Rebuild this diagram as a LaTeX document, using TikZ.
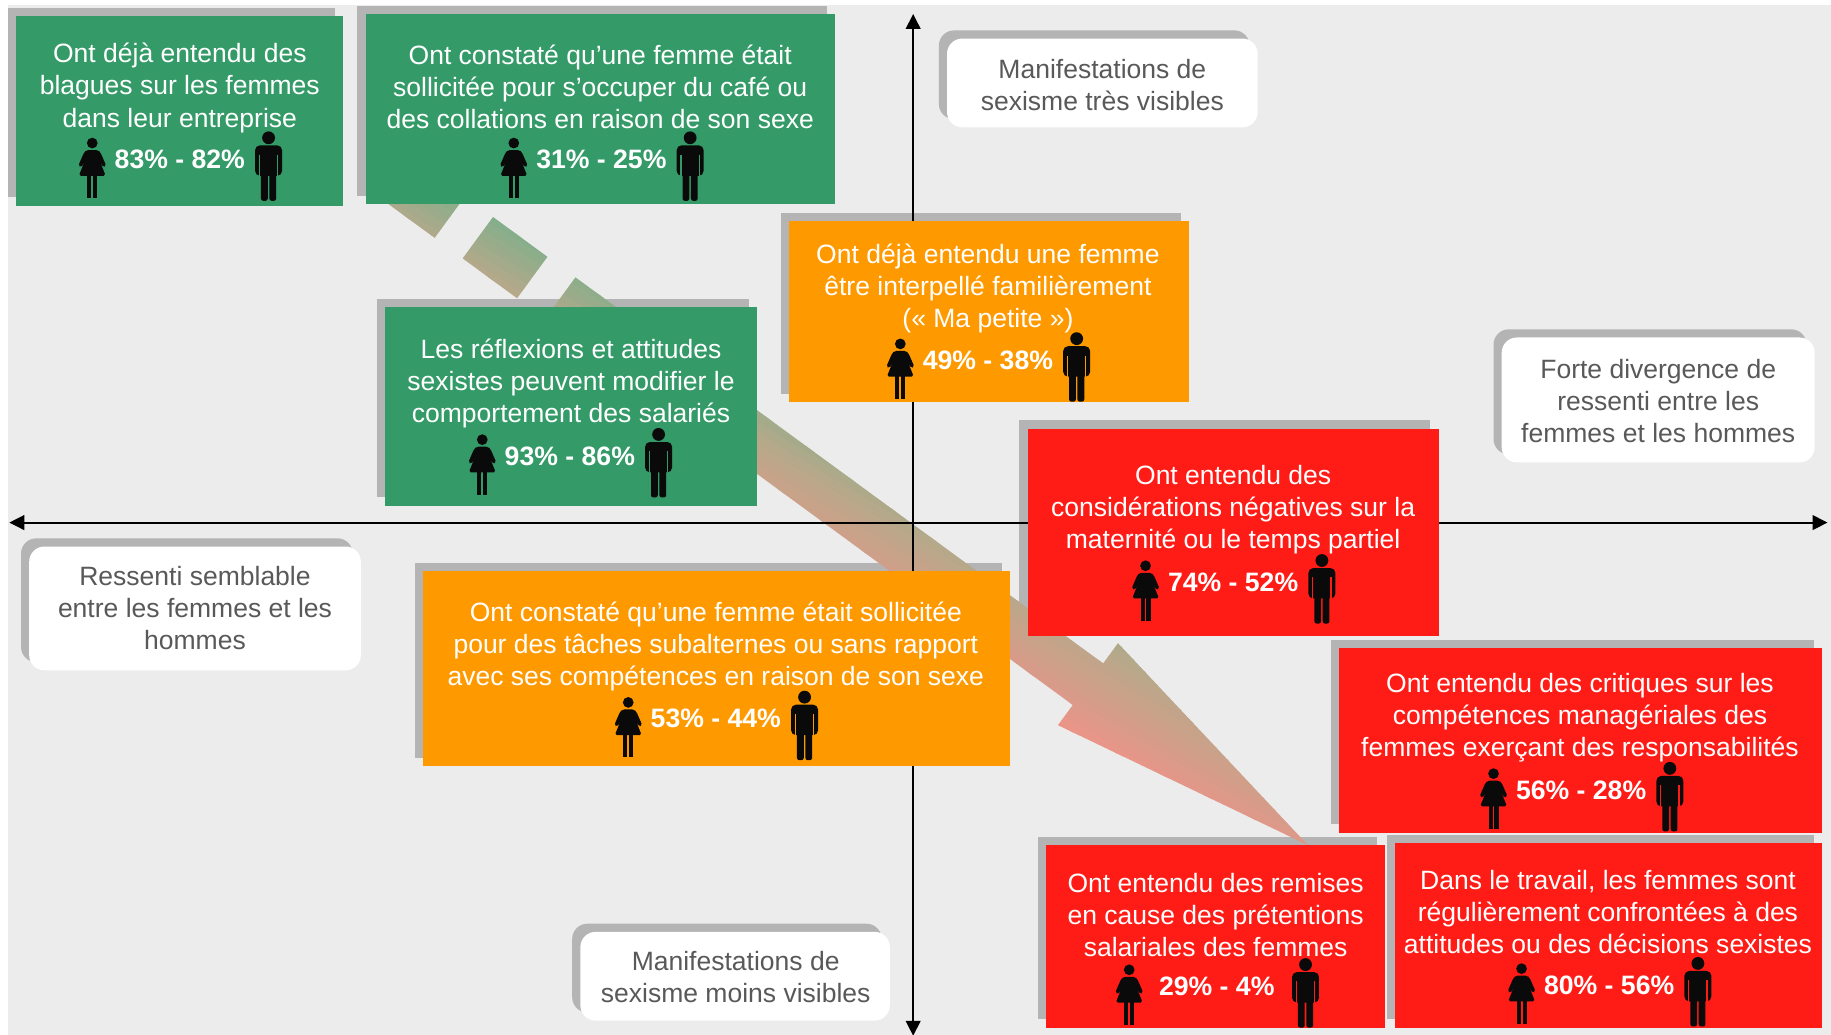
\documentclass[tikz,border=0pt]{standalone}
\usepackage{fontspec}
\setmainfont{Liberation Sans}
\usetikzlibrary{arrows.meta,fit}

\definecolor{bgc}{RGB}{236,236,236}
\definecolor{shadc}{RGB}{180,180,180}
\definecolor{cgreen}{RGB}{52,154,104}
\definecolor{corange}{RGB}{255,153,0}
\definecolor{cred}{RGB}{255,28,22}
\definecolor{icon}{RGB}{10,10,10}
\definecolor{wtext}{RGB}{89,89,89}
\definecolor{arrgreen}{RGB}{122,176,138}
\definecolor{arrtan}{RGB}{184,168,138}
\definecolor{arrpink}{RGB}{236,148,136}

\tikzset{
  btext/.style={text=white, align=center, inner sep=0pt},
  stat/.style={text=white, font=\fontsize{11.4pt}{13.75pt}\selectfont\bfseries, inner sep=0pt},
  wtxt/.style={text=wtext, align=center, inner sep=0pt},
  cbx/.style={inner sep=0pt, draw=none, fill=#1},
  wbx/.style={inner sep=0pt, draw=none, fill=white, rounded corners=6.5pt},
  axisline/.style={line width=0.8pt, {Triangle[length=6.4pt,width=6.3pt]}-{Triangle[length=6.4pt,width=6.3pt]}},
  pics/woman/.style={code={
    \fill[icon] (0,-14) circle[radius=4.6];
    \fill[icon, rounded corners=0.8pt] (-5,-8) -- (5,-8) -- (7,-6) -- (12,5.5) -- (9.5,7) -- (6.5,1.5) -- (11.5,14) -- (-11.5,14) -- (-6.5,1.5) -- (-9.5,7) -- (-12,5.5) -- (-7,-6) -- cycle;
    \fill[icon] (-4.3,13) rectangle (-0.8,33);
    \fill[icon] (0.8,13) rectangle (4.3,33);
  }},
  pics/man/.style={code={
    \fill[icon] (0,-18.5) circle[radius=5.5];
    \fill[icon, rounded corners=2pt] (-11.5,14) -- (-11.5,-12) -- (11.5,-12) -- (11.5,14) -- cycle;
    \fill[icon, rounded corners=1pt] (-6.5,10) rectangle (-0.7,35.5);
    \fill[icon, rounded corners=1pt] (0.7,10) rectangle (6.5,35.5);
    \draw[#1, line width=0.55pt] (-7.8,-4) -- (-7.8,15) (7.8,-4) -- (7.8,15);
  }},
  pics/man/.default=cgreen,
}

\newcommand\statline[5]{%
  \node[stat] (#1) at (#3,#4) {#5};
  \pic at ({#3-75},#4) {woman};
  \pic at ({#3+76},#4) {man=#2};
}

\begin{document}
\begin{tikzpicture}[x=0.5pt,y=-0.5pt,font=\fontsize{11.35pt}{13.75pt}\selectfont]
\useasboundingbox (0,0) rectangle (1568,885.5);
\fill[white] (0,0) rectangle (1568,885.5);
\fill[bgc] (7,4) rectangle (1575,892);

% shadows
\foreach \xa/\ya/\xb/\yb in {14/14/294/176, 313/12/715/175, 330/263/648/433, 676/189/1018/344, 362/489/865/656, 880/367/1232/545, 1147/555/1560/713, 896/724/1186/880, 1195/722/1560/880}
  \fill[shadc] ({\xa-7},{\ya-7}) rectangle ({\xb-7},{\yb-7});
\foreach \xa/\ya/\xb/\yb in {811/33/1077/109, 1286/289/1554/396, 25/468/309/574, 497/798/762/874}
  \fill[shadc, rounded corners=6.5pt] ({\xa-7},{\ya-7}) rectangle ({\xb-7},{\yb-7});

% big gradient arrow
\begin{scope}
\clip (372.2,203.7) -- (398.2,168.2) -- (351.6,134.0) -- (325.6,169.6) -- cycle
      (442.8,255.4) -- (468.8,219.9) -- (422.2,185.8) -- (396.2,221.3) -- cycle
      (492.8,237.5) -- (944.7,568.1) -- (957.4,550.8) -- (1120.1,723.8) -- (906.0,621.0) -- (918.7,603.7) -- (466.8,273.0) -- cycle;
\foreach \f in {-72,-68,...,72}{
  \pgfmathsetmacro\fc{\f+2}
  \pgfmathsetmacro\pa{max(0,min(100,(\fc+66)*100/56))}
  \pgfmathsetmacro\pb{max(0,min(100,(\fc+10)*100/76))}
  \ifdim\fc pt<-10pt\relax \colorlet{stripc}{arrtan!\pa!arrgreen}\else\colorlet{stripc}{arrpink!\pb!arrtan}\fi
  \fill[stripc] ({-0.515*(\f)-1714},{0.857*(\f)-1030}) -- ({-0.515*(\f)+1714},{0.857*(\f)+1030}) -- ({-0.515*(\f+4.4)+1714},{0.857*(\f+4.4)+1030}) -- ({-0.515*(\f+4.4)-1714},{0.857*(\f+4.4)-1030}) -- cycle;
}
\end{scope}

% axes
\coordinate (yb) at (782,887);
\coordinate (yt) at (782,12);
\coordinate (xl) at (8,447.5);
\coordinate (xr) at (1565,447.5);
\draw[axisline] (yb) -- (yt);
\draw[axisline] (xl) -- (xr);

% coloured boxes
\node[cbx=cgreen, fit={(14,14) (294,176)}] (b1) {};
\node[cbx=cgreen, fit={(313,12) (715,175)}] (b2) {};
\node[cbx=cgreen, fit={(330,263) (648,433)}] (b3) {};
\node[cbx=corange, fit={(676,189) (1018,344)}] (b4) {};
\node[cbx=corange, fit={(362,489) (865,656)}] (b5) {};
\node[cbx=cred, fit={(880,367) (1232,545)}] (b6) {};
\node[cbx=cred, fit={(1147,555) (1560,713)}] (b7) {};
\node[cbx=cred, fit={(896,724) (1186,880)}] (b8) {};
\node[cbx=cred, fit={(1195,722) (1560,880)}] (b9) {};

\node[btext] (t1) at (154,75.3) {Ont déjà entendu des\\blagues sur les femmes\\dans leur entreprise};
\statline{s1}{cgreen}{154}{136.5}{83\% - 82\%}
\node[btext] (t2) at (514,74.7) {Ont constaté qu’une femme était\\sollicitée pour s’occuper du café ou\\des collations en raison de son sexe};
\statline{s2}{cgreen}{515}{136.5}{31\% - 25\%}
\node[btext] (t3) at (489,328.7) {Les réflexions et attitudes\\sexistes peuvent modifier le\\comportement des salariés};
\statline{s3}{cgreen}{488}{390.5}{93\% - 86\%}
\node[btext] (t4) at (846,247) {Ont déjà entendu une femme\\être interpellé familièrement\\(«~Ma petite~»)};
\statline{s4}{corange}{846}{308.5}{49\% - 38\%}
\node[btext] (t5) at (613,553.7) {Ont constaté qu’une femme était sollicitée\\pour des tâches subalternes ou sans rapport\\avec ses compétences en raison de son sexe};
\statline{s5}{corange}{613}{615.5}{53\% - 44\%}
\node[btext] (t6) at (1056,436.3) {Ont entendu des\\considérations négatives sur la\\maternité ou le temps partiel};
\statline{s6}{cred}{1056}{498.5}{74\% - 52\%}
\node[btext] (t7) at (1353,614.7) {Ont entendu des critiques sur les\\compétences managériales des\\femmes exerçant des responsabilités};
\statline{s7}{cred}{1354}{676.5}{56\% - 28\%}
\node[btext] (t8) at (1041,783.3) {Ont entendu des remises\\en cause des prétentions\\salariales des femmes};
\statline{s8}{cred}{1042}{844.5}{29\% - 4\%}
\node[btext] (t9) at (1377,781) {Dans le travail, les femmes sont\\régulièrement confrontées à des\\attitudes ou des décisions sexistes};
\statline{s9}{cred}{1378}{843.5}{80\% - 56\%}

% white label boxes
\node[wbx, fit={(811,33) (1077,109)}] (w1) {};
\node[wtxt] (w1t) at (944,73) {Manifestations de\\sexisme très visibles};
\node[wbx, fit={(1286,289) (1554,396)}] (w2) {};
\node[wtxt] (w2t) at (1420,343.7) {Forte divergence de\\ressenti entre les\\femmes et les hommes};
\node[wbx, fit={(25,468) (309,574)}] (w3) {};
\node[wtxt] (w3t) at (167,521) {Ressenti semblable\\entre les femmes et les\\hommes};
\node[wbx, fit={(497,798) (762,874)}] (w4) {};
\node[wtxt] (w4t) at (630,837) {Manifestations de\\sexisme moins visibles};
\end{tikzpicture}
\end{document}
